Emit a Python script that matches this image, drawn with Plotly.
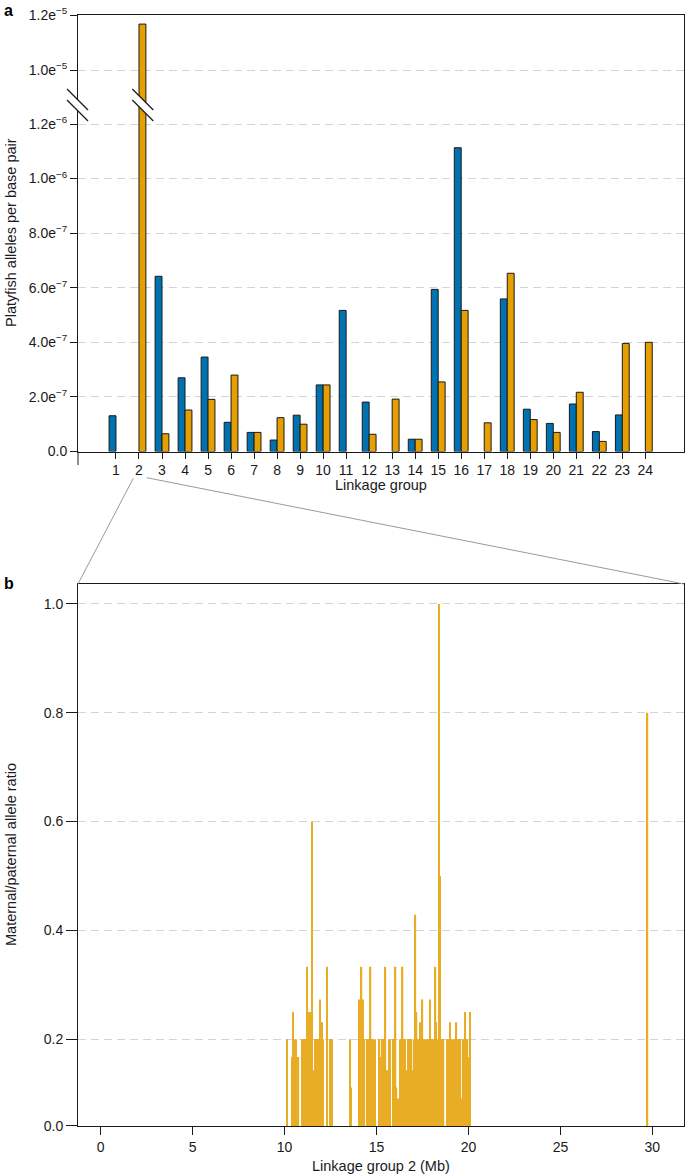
import plotly.graph_objects as go

# ---------------- data: panel a ----------------
groups = list(range(1, 25))
blue_vals = [1.31e-7, None, 6.42e-7, 2.70e-7, 3.46e-7, 1.07e-7, 7.0e-8, 4.2e-8,
             1.33e-7, 2.44e-7, 5.17e-7, 1.81e-7, None, 4.5e-8, 5.94e-7, 1.113e-6,
             None, 5.59e-7, 1.55e-7, 1.03e-7, 1.74e-7, 7.3e-8, 1.34e-7, None]
orange_vals = [None, 1.167e-5, 6.5e-8, 1.52e-7, 1.91e-7, 2.80e-7, 7.0e-8, 1.24e-7,
               1.0e-7, 2.44e-7, None, 6.3e-8, 1.92e-7, 4.5e-8, 2.55e-7, 5.17e-7,
               1.05e-7, 6.53e-7, 1.17e-7, 7.0e-8, 2.17e-7, 3.7e-8, 3.96e-7, 4.0e-7]

lower_ticks = [0, 2e-7, 4e-7, 6e-7, 8e-7, 1.0e-6, 1.2e-6]
lower_ticktext = ["0.0", "2.0e<sup>−7</sup>", "4.0e<sup>−7</sup>", "6.0e<sup>−7</sup>",
                  "8.0e<sup>−7</sup>", "1.0e<sup>−6</sup>", "1.2e<sup>−6</sup>"]
upper_ticks = [1.0e-5, 1.2e-5]
upper_ticktext = ["1.0e<sup>−5</sup>", "1.2e<sup>−5</sup>"]

# ---------------- data: panel b ----------------
lg2_pos = [10.13, 10.42, 10.45, 10.48, 10.55, 10.62, 10.69, 10.76, 10.96, 11.02,
           11.07, 11.13, 11.18, 11.24, 11.29, 11.34, 11.40, 11.49, 11.56, 11.61,
           11.67, 11.73, 11.79, 11.85, 11.91, 11.95, 12.00, 12.05, 12.10, 12.29,
           12.47, 12.54, 12.60, 13.55, 13.62, 14.03, 14.08, 14.14, 14.19, 14.25,
           14.30, 14.35, 14.50, 14.57, 14.68, 14.75, 14.82, 14.91, 15.17, 15.22,
           15.29, 15.37, 15.45, 15.49, 15.60, 15.67, 15.75, 15.93, 15.98, 16.04,
           16.09, 16.20, 16.29, 16.36, 16.42, 16.49, 16.56, 16.64, 16.71, 16.78,
           16.85, 16.91, 16.96, 17.03, 17.08, 17.12, 17.18, 17.23, 17.30, 17.36,
           17.43, 17.50, 17.58, 17.63, 17.68, 17.74, 17.79, 17.85, 17.90, 17.97,
           18.05, 18.12, 18.21, 18.26, 18.32, 18.35, 18.39, 18.45, 18.50, 18.57,
           18.65, 18.83, 18.90, 18.95, 18.99, 19.04, 19.13, 19.21, 19.26, 19.28,
           19.35, 19.42, 19.50, 19.57, 19.66, 19.73, 19.80, 19.88, 19.95, 20.00,
           20.08, 29.74]
lg2_ratio = [0.2, 0.167, 0.083, 0.25, 0.2, 0.2, 0.167, 0.167, 0.2, 0.2,
             0.2, 0.2, 0.2, 0.333, 0.2, 0.25, 0.25, 0.6, 0.143, 0.077,
             0.2, 0.2, 0.2, 0.2, 0.273, 0.231, 0.231, 0.231, 0.2, 0.333,
             0.2, 0.2, 0.2, 0.2, 0.111, 0.2, 0.273, 0.273, 0.333, 0.273,
             0.2, 0.2, 0.2, 0.2, 0.333, 0.2, 0.2, 0.2, 0.2, 0.167,
             0.2, 0.2, 0.231, 0.333, 0.143, 0.2, 0.2, 0.2, 0.2, 0.333,
             0.111, 0.091, 0.2, 0.2, 0.333, 0.2, 0.2, 0.143, 0.2, 0.2,
             0.2, 0.2, 0.143, 0.2, 0.333, 0.429, 0.25, 0.2, 0.2, 0.231,
             0.2, 0.273, 0.2, 0.167, 0.2, 0.2, 0.2, 0.2, 0.273, 0.2,
             0.2, 0.2, 0.333, 0.231, 0.091, 0.2, 1.0, 0.5, 0.2, 0.2,
             0.2, 0.2, 0.2, 0.143, 0.231, 0.2, 0.2, 0.2, 0.167, 0.2,
             0.231, 0.2, 0.2, 0.2, 0.091, 0.2, 0.25, 0.2, 0.2, 0.167,
             0.25, 0.8]

b_xticks = [0, 5, 10, 15, 20, 25, 30]
b_yticks = [0.0404, 0.2, 0.4, 0.6, 0.8, 1.0]
b_yticktext = ["0.0", "0.2", "0.4", "0.6", "0.8", "1.0"]

BLUE = "#0072B2"
ORANGE = "#E69F00"
INK = "#1a1a1a"
GRID = "#d4d4d4"
FONT = "Liberation Sans, Arial, Helvetica, sans-serif"

W, H = 685, 1176
ML, MR, MT, MB = 78, 1, 15, 50
PW = W - ML - MR
PH = H - MT - MB


def fx(p):
    return (p - ML) / PW


def fy(p):
    return (H - MB - p) / PH


fig = go.Figure()
for xa, ya in [("x", "y"), ("x2", "y2")]:
    fig.add_trace(go.Bar(x=groups, y=blue_vals, xaxis=xa, yaxis=ya, showlegend=False,
                         marker=dict(color=BLUE, line=dict(color=INK, width=1))))
    fig.add_trace(go.Bar(x=groups, y=orange_vals, xaxis=xa, yaxis=ya, showlegend=False,
                         marker=dict(color=ORANGE, line=dict(color=INK, width=1))))

fig.add_trace(go.Bar(x=lg2_pos, y=lg2_ratio, xaxis="x3", yaxis="y3", width=0.07,
                     showlegend=False, opacity=0.85,
                     marker=dict(color=ORANGE, line=dict(width=0))))

axis_common = dict(showline=True, linecolor=INK, linewidth=1, tickcolor=INK,
                   tickwidth=1, zeroline=False,
                   tickfont=dict(family=FONT, size=14, color=INK))
grid_on = dict(showgrid=True, gridcolor=GRID, gridwidth=1, griddash="8px,5px")

y_split = fy(105)

fig.update_layout(
    width=W, height=H,
    margin=dict(l=ML, r=MR, t=MT, b=MB, autoexpand=False),
    paper_bgcolor="white", plot_bgcolor="white",
    barmode="group", bargap=0.4, bargroupgap=0.0,
    font=dict(family=FONT, size=14, color=INK),
    xaxis=dict(domain=[0, 1], anchor="y", range=[-0.65, 25.68], tickvals=groups,
               ticks="outside", ticklen=6, showgrid=False, mirror=False, **axis_common),
    xaxis2=dict(domain=[0, 1], anchor="y2", range=[-0.65, 25.68], side="top",
                showticklabels=False, ticks="", showgrid=False, **axis_common),
    yaxis=dict(domain=[fy(451.5), y_split], anchor="x", range=[-1e-12, 1.2696e-6],
               tickvals=lower_ticks, ticktext=lower_ticktext, ticks="outside",
               ticklen=7, mirror=True, **grid_on, **axis_common),
    yaxis2=dict(domain=[y_split, 1.0], anchor="x2", range=[8.727e-6, 1.20005e-5],
                tickvals=upper_ticks, ticktext=upper_ticktext, ticks="outside",
                ticklen=7, mirror=True, **grid_on, **axis_common),
    xaxis3=dict(domain=[0, 1], anchor="y3", range=[-1.23, 31.72], tickvals=b_xticks,
                ticks="outside", ticklen=8, showgrid=False, mirror=True, **axis_common),
    yaxis3=dict(domain=[0, fy(584)], anchor="x3", range=[0.0403, 1.0367],
                tickvals=b_yticks, ticktext=b_yticktext, ticks="outside", ticklen=11,
                mirror=True, **grid_on, **axis_common),
)

shapes = []
# connector lines from LG2 to panel b
shapes.append(dict(type="line", xref="paper", yref="paper", x0=fx(133.3), y0=fy(478.3),
                   x1=fx(78), y1=fy(584), line=dict(color="#9a9a9a", width=1)))
shapes.append(dict(type="line", xref="paper", yref="paper", x0=fx(146.7), y0=fy(477.7),
                   x1=fx(684), y1=fy(584), line=dict(color="#9a9a9a", width=1)))
# left axis extension below baseline in panel a
shapes.append(dict(type="line", xref="paper", yref="paper", x0=fx(78), y0=fy(451.5),
                   x1=fx(78), y1=fy(465), line=dict(color=INK, width=1)))
# axis breaks
for c in (78, 143.3):
    path = (f"M {fx(c-11)},{fy(89)} L {fx(c+10)},{fy(110)} "
            f"L {fx(c+10)},{fy(121)} L {fx(c-11)},{fy(100)} Z")
    shapes.append(dict(type="path", xref="paper", yref="paper", path=path,
                       fillcolor="white", line=dict(width=0), layer="above"))
    for dy in (0, 11):
        shapes.append(dict(type="line", xref="paper", yref="paper",
                           x0=fx(c-11), y0=fy(89+dy), x1=fx(c+10), y1=fy(110+dy),
                           line=dict(color=INK, width=1.2), layer="above"))
fig.update_layout(shapes=shapes)

ann = []
ann.append(dict(text="<b>a</b>", x=fx(2), y=fy(0), xref="paper", yref="paper",
                showarrow=False, xanchor="left", yanchor="top",
                font=dict(family=FONT, size=16, color="black")))
ann.append(dict(text="<b>b</b>", x=fx(2), y=fy(583), xref="paper", yref="paper",
                showarrow=False, xanchor="left", yanchor="middle",
                font=dict(family=FONT, size=16, color="black")))
ann.append(dict(text="Platyfish alleles per base pair", x=fx(11), y=fy(233),
                xref="paper", yref="paper", showarrow=False, textangle=-90,
                xanchor="center", yanchor="middle", font=dict(family=FONT, size=14.5, color=INK)))
ann.append(dict(text="Linkage group", x=fx(381), y=fy(485), xref="paper", yref="paper",
                showarrow=False, xanchor="center", yanchor="middle",
                font=dict(family=FONT, size=14.5, color=INK)))
ann.append(dict(text="Maternal/paternal allele ratio", x=fx(11), y=fy(855),
                xref="paper", yref="paper", showarrow=False, textangle=-90,
                xanchor="center", yanchor="middle", font=dict(family=FONT, size=14.5, color=INK)))
ann.append(dict(text="Linkage group 2 (Mb)", x=fx(381), y=fy(1166), xref="paper",
                yref="paper", showarrow=False, xanchor="center", yanchor="middle",
                font=dict(family=FONT, size=14.5, color=INK)))
fig.update_layout(annotations=ann)

fig.write_html(
    "out.html",
    config={"displayModeBar": False},
    post_script="document.body.style.margin='0';document.body.style.overflow='hidden';",
)
